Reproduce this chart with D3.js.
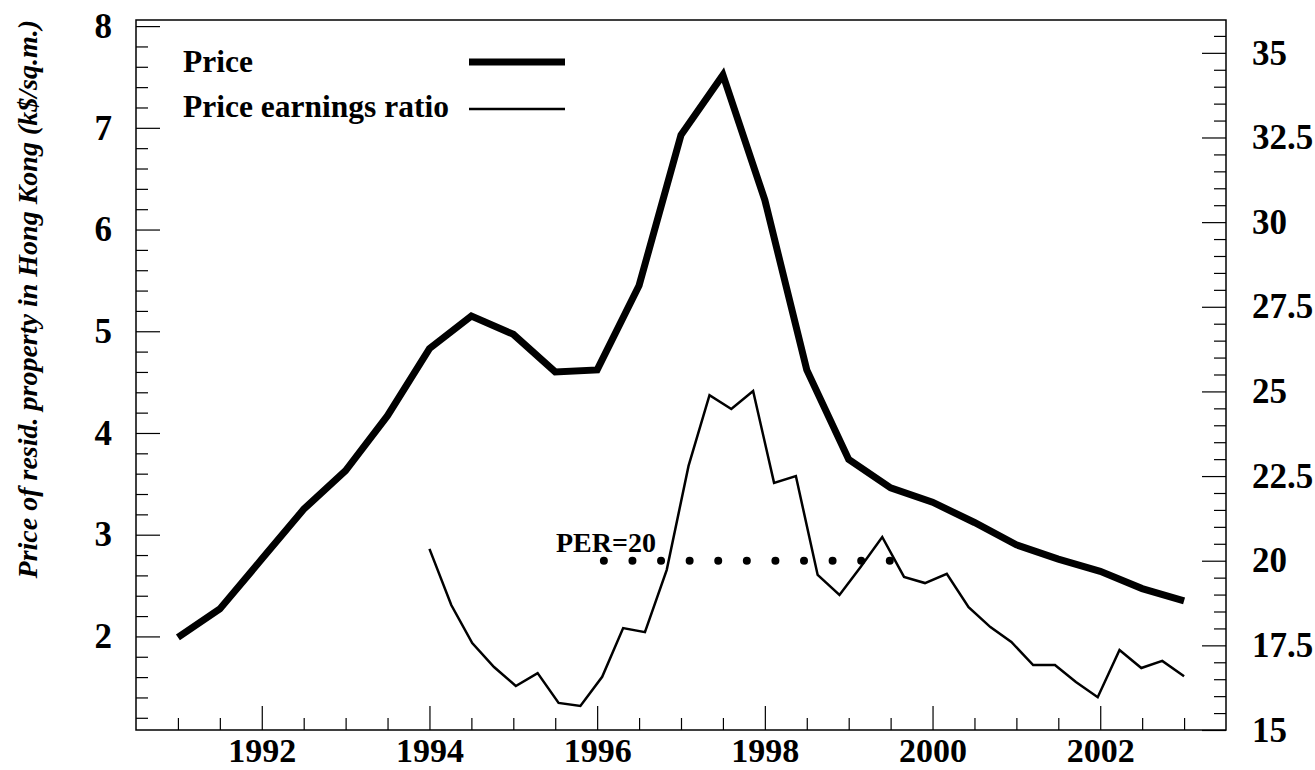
<!DOCTYPE html>
<html lang="en">
<head>
<meta charset="UTF-8">
<title>Hong Kong property price</title>
<style>
  body { margin: 0; background: #fff; }
  svg { display: block; }
  text { font-family: "Liberation Serif", "Times New Roman", serif; font-weight: bold; fill: #000; }
</style>
<script src="https://d3js.org/d3.v7.min.js"></script>
</head>
<body>
<svg id="chart" width="1315" height="770"></svg>
<script>
// price of residential property, half-yearly (k$/sq.m.)
const priceYears = [1991, 1991.5, 1992, 1992.5, 1993, 1993.5, 1994, 1994.5, 1995, 1995.5,
                    1996, 1996.5, 1997, 1997.5, 1998, 1998.5, 1999, 1999.5, 2000, 2000.5,
                    2001, 2001.5, 2002, 2002.5, 2003];
const priceValues = [1.99, 2.27, 2.76, 3.25, 3.63, 4.17, 4.83, 5.15, 4.97, 4.60,
                     4.62, 5.45, 6.93, 7.52, 6.29, 4.62, 3.74, 3.46, 3.32, 3.12,
                     2.90, 2.76, 2.64, 2.47, 2.35];

// price earnings ratio, roughly quarterly
const perYears = [1994.00, 1994.26, 1994.51, 1994.77, 1995.03, 1995.29, 1995.54, 1995.80,
                  1996.06, 1996.31, 1996.57, 1996.83, 1997.09, 1997.34, 1997.60, 1997.86,
                  1998.11, 1998.37, 1998.63, 1998.89, 1999.14, 1999.40, 1999.66, 1999.91,
                  2000.17, 2000.43, 2000.69, 2000.94, 2001.20, 2001.46, 2001.71, 2001.97,
                  2002.23, 2002.49, 2002.74, 2003.00];
const perValues = [20.35, 18.69, 17.57, 16.86, 16.30, 16.68, 15.80, 15.71,
                   16.57, 18.01, 17.89, 19.73, 22.80, 24.89, 24.48, 25.01,
                   22.30, 22.50, 19.58, 18.99, 19.81, 20.70, 19.52, 19.34,
                   19.61, 18.63, 18.04, 17.60, 16.92, 16.92, 16.42, 15.97,
                   17.36, 16.83, 17.04, 16.59];

const perLevel = 20;
const perLevelRange = [1996.08, 1999.49];

const xMajorTicks = [1992, 1994, 1996, 1998, 2000, 2002];
const leftTicks = [2, 3, 4, 5, 6, 7, 8];
const rightTicks = [15, 17.5, 20, 22.5, 25, 27.5, 30, 32.5, 35];

const legendLabels = ["Price", "Price earnings ratio"];
const yTitle = "Price of resid. property in Hong Kong (k$/sq.m.)";

const svg = d3.select("#chart");
const frame = { left: 136, right: 1226, top: 20, bottom: 730 };

const x = d3.scaleLinear().domain([1990.5, 2003.5]).range([frame.left, frame.right]);
const yL = d3.scaleLinear().domain([1.08, 8.06]).range([frame.bottom, frame.top]);
const yR = d3.scaleLinear().domain([15, 35.97]).range([frame.bottom, frame.top]);

svg.append("rect").attr("width", 1315).attr("height", 770).attr("fill", "#fff");

// minor ticks
const xMinor = d3.range(1991, 2003.01, 0.5).filter(v => !xMajorTicks.includes(v));
const lMinor = d3.range(1.2, 8.01, 0.2).map(v => +v.toFixed(1)).filter(v => !leftTicks.includes(v));
const rMinor = d3.range(15.5, 35.6, 0.5).filter(v => !rightTicks.includes(v));

function styleAxis(g) {
  g.select(".domain").remove();
  g.selectAll(".tick line").attr("stroke", "#000").attr("stroke-width", 1.2);
}

svg.append("g").attr("transform", `translate(0,${frame.bottom})`)
  .call(d3.axisBottom(x).tickValues(xMinor).tickSize(-12).tickFormat(""))
  .call(styleAxis);
svg.append("g").attr("transform", `translate(0,${frame.bottom})`)
  .call(d3.axisBottom(x).tickValues(xMajorTicks).tickSize(-24).tickPadding(8).tickFormat(d3.format("d")))
  .call(styleAxis)
  .call(g => g.selectAll("text").style("font-size", "34px"));

svg.append("g").attr("transform", `translate(${frame.left},0)`)
  .call(d3.axisLeft(yL).tickValues(lMinor).tickSize(-12).tickFormat(""))
  .call(styleAxis);
svg.append("g").attr("transform", `translate(${frame.left},0)`)
  .call(d3.axisLeft(yL).tickValues(leftTicks).tickSize(-24).tickPadding(24).tickFormat(d3.format("d")))
  .call(styleAxis)
  .call(g => g.selectAll("text").style("font-size", "35px"));

svg.append("g").attr("transform", `translate(${frame.right},0)`)
  .call(d3.axisRight(yR).tickValues(rMinor).tickSize(-12).tickFormat(""))
  .call(styleAxis);
svg.append("g").attr("transform", `translate(${frame.right},0)`)
  .call(d3.axisRight(yR).tickValues(rightTicks).tickSize(-24).tickPadding(26).tickFormat(d => String(d)))
  .call(styleAxis)
  .call(g => g.selectAll("text").style("font-size", "35px"));

// frame
svg.append("rect")
  .attr("x", frame.left).attr("y", frame.top)
  .attr("width", frame.right - frame.left).attr("height", frame.bottom - frame.top)
  .attr("fill", "none").attr("stroke", "#000").attr("stroke-width", 1.5);

// y title
svg.append("text")
  .attr("transform", `translate(37,${frame.top}) rotate(-90)`)
  .attr("text-anchor", "end")
  .style("font-size", "28px")
  .style("font-style", "italic")
  .text(yTitle);

// series
const priceLine = d3.line().x(d => x(d[0])).y(d => yL(d[1]));
const perLine = d3.line().x(d => x(d[0])).y(d => yR(d[1]));

svg.append("path")
  .datum(d3.zip(perYears, perValues))
  .attr("d", perLine)
  .attr("fill", "none").attr("stroke", "#000").attr("stroke-width", 2.5)
  .attr("stroke-linejoin", "miter");

svg.append("path")
  .datum(d3.zip(priceYears, priceValues))
  .attr("d", priceLine)
  .attr("fill", "none").attr("stroke", "#000").attr("stroke-width", 7)
  .attr("stroke-linejoin", "miter");

// PER = 20 reference
const lvlLen = x(perLevelRange[1]) - x(perLevelRange[0]);
svg.append("line")
  .attr("x1", x(perLevelRange[0])).attr("x2", x(perLevelRange[1]))
  .attr("y1", yR(perLevel)).attr("y2", yR(perLevel))
  .attr("stroke", "#000").attr("stroke-width", 8)
  .attr("stroke-linecap", "round")
  .attr("stroke-dasharray", `0 ${lvlLen / 10}`);

svg.append("text")
  .attr("x", 556).attr("y", 552)
  .style("font-size", "28px")
  .text("PER=" + perLevel);

// legend
const legend = svg.append("g");
[[72, 7, 62], [117, 2.5, 109]].forEach(([ty, w, ly], i) => {
  legend.append("text").attr("x", 183).attr("y", ty).style("font-size", "31.5px").text(legendLabels[i]);
  legend.append("line").attr("x1", 469).attr("x2", 565).attr("y1", ly).attr("y2", ly)
    .attr("stroke", "#000").attr("stroke-width", w);
});
</script>
</body>
</html>
